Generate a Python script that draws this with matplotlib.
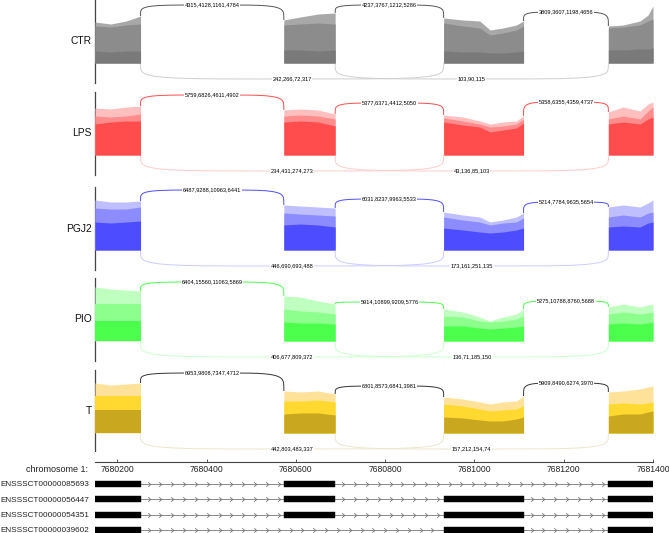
import numpy as np
import matplotlib
matplotlib.use("Agg")
import matplotlib.pyplot as plt
from matplotlib.path import Path

plt.rcParams['font.family'] = ['Liberation Sans', 'DejaVu Sans']

# ---------------- data ----------------
samples = ["CTR", "LPS", "PGJ2", "PIO", "T"]
exons = [(7680150, 7680252), (7680573, 7680688), (7680931, 7681110), (7681300, 7681400)]
exon_pos = [
    [7680150, 7680185, 7680220, 7680252],
    [7680573, 7680610, 7680650, 7680688],
    [7680931, 7680974, 7681012, 7681035, 7681064, 7681094, 7681110],
    [7681300, 7681333, 7681371, 7681389, 7681400],
]
# coverage envelopes (light = highest sample, medium, dark = lowest overlap), per exon
ctr_light = [[41, 39, 42, 47], [43, 46, 49, 50], [45, 43, 42, 33, 35, 38, 42], [37, 38, 42, 48, 57]]
ctr_mid = [[37, 36, 38, 39], [38, 39, 40, 39], [40, 37, 35, 28, 30, 33, 37], [35, 36, 38, 42, 44]]
ctr_dark = [[12, 11, 12, 12], [13, 13, 12, 13], [12, 11, 11, 10, 10, 11, 12], [13, 13, 14, 14, 15]]

lps_light = [[47, 46, 48, 49], [45, 46, 45, 41], [40, 38, 34, 31, 33, 34, 39], [43, 48, 44, 51, 53]]
lps_mid = [[39, 38, 39, 41], [39, 40, 39, 36], [37, 34, 31, 28, 29, 31, 36], [36, 39, 36, 44, 48]]
lps_dark = [[31, 33, 34, 34], [33, 34, 33, 29], [33, 30, 28, 23, 25, 27, 32], [31, 33, 31, 36, 38]]

pgj2_light = [[50, 48, 48, 49], [45, 44, 43, 42], [38, 35, 33, 28, 30, 33, 37], [43, 45, 43, 47, 50]]
pgj2_mid = [[42, 41, 41, 43], [37, 36, 35, 34], [33, 30, 28, 25, 27, 28, 32], [33, 35, 33, 37, 38]]
pgj2_dark = [[28, 27, 28, 29], [25, 26, 25, 23], [22, 20, 18, 17, 18, 20, 22], [23, 24, 23, 27, 28]]

pio_light = [[54, 52, 51, 50], [45, 44, 40, 37], [32, 29, 24, 20, 24, 27, 32], [34, 37, 34, 36, 37]]
pio_mid = [[37, 37, 37, 37], [32, 30, 29, 27], [25, 24, 20, 19, 20, 22, 25], [27, 29, 27, 28, 29]]
pio_dark = [[20, 20, 20, 20], [19, 18, 18, 17], [15, 15, 13, 12, 13, 14, 15], [17, 18, 17, 18, 19]]

t_light = [[50, 48, 49, 50], [42, 41, 42, 39], [36, 34, 31, 29, 31, 32, 37], [41, 42, 44, 46, 47]]
t_mid = [[37, 37, 37, 37], [32, 32, 33, 31], [29, 27, 24, 22, 23, 24, 27], [29, 30, 29, 30, 31]]
t_dark = [[23, 23, 23, 23], [19, 20, 20, 18], [16, 15, 13, 12, 12, 14, 16], [17, 19, 19, 21, 22]]

# junctions: top (exon i -> exon i+1), bottom (exon1->exon3, exon2->exon4)
top_junctions = [(0, 1), (1, 2), (2, 3)]
bottom_junctions = [(0, 2), (1, 3)]
ctr_top = [[4315, 4128, 1161, 4784], [4237, 3767, 1212, 5286], [3809, 3607, 1198, 4656]]
ctr_bot = [[242, 266, 72, 317], [103, 90, 115]]
lps_top = [[5759, 6826, 4611, 4902], [5377, 6371, 4412, 5050], [5358, 6355, 4359, 4737]]
lps_bot = [[234, 431, 274, 273], [43, 136, 85, 103]]
pgj2_top = [[6487, 9288, 10963, 6441], [6031, 8237, 9963, 5533], [5214, 7784, 9635, 5654]]
pgj2_bot = [[446, 690, 693, 488], [173, 161, 251, 135]]
pio_top = [[6404, 15560, 11063, 5869], [5914, 10899, 9209, 5776], [5275, 10788, 8760, 5688]]
pio_bot = [[406, 677, 809, 372], [136, 71, 185, 150]]
t_top = [[6953, 9808, 7347, 4712], [6801, 8573, 6841, 3981], [5909, 8490, 6274, 3970]]
t_bot = [[442, 803, 483, 337], [157, 212, 154, 74]]

transcripts = ["ENSSSCT00000085693", "ENSSSCT00000056447", "ENSSSCT00000054351", "ENSSSCT00000039602"]
transcript_exons = [[0, 1, 3], [0, 1, 2, 3], [0, 1, 2, 3], [0, 2, 3]]
tick_values = [7680200, 7680400, 7680600, 7680800, 7681000, 7681200, 7681400]
chrom_label = "chromosome 1:"

# ---------------- style ----------------
band_colors = {
    "CTR": ["#a8a8a8", "#8c8c8c", "#7a7a7a"],
    "LPS": ["#ffbfbf", "#ff8c8c", "#ff4d4d"],
    "PGJ2": ["#bfbfff", "#8c8cff", "#4d4dff"],
    "PIO": ["#bfffbf", "#8cff8c", "#4dff4d"],
    "T": ["#ffe29a", "#ffd92f", "#c9a71f"],
}
arc_colors = {
    "CTR": ("#555555", "#cfcfcf"),
    "LPS": ("#ff4d4d", "#ffcccc"),
    "PGJ2": ("#4d4dff", "#ccccff"),
    "PIO": ("#4dff4d", "#ccffcc"),
    "T": ("#333333", "#ece7cc"),
}
arc_peaks = {"CTR": [58, 58, 51], "LPS": [60, 52, 53], "PGJ2": [60, 51, 48],
             "PIO": [59, 39, 40], "T": [60, 47, 50]}
BOTTOM_DEPTH = -16
panel_tops = [0, 92, 187, 278, 370]

panel_data = {
    "CTR": (ctr_light, ctr_mid, ctr_dark, ctr_top, ctr_bot),
    "LPS": (lps_light, lps_mid, lps_dark, lps_top, lps_bot),
    "PGJ2": (pgj2_light, pgj2_mid, pgj2_dark, pgj2_top, pgj2_bot),
    "PIO": (pio_light, pio_mid, pio_dark, pio_top, pio_bot),
    "T": (t_light, t_mid, t_dark, t_top, t_bot),
}

W, H = 669, 533
XL, XR = 95, 653
XMIN, XMAX = 7680150, 7681400
fig = plt.figure(figsize=(W / 100, H / 100), dpi=100)


def axes_px(left, top, width, height):
    return fig.add_axes([left / W, 1 - (top + height) / H, width / W, height / H])


def half_arc(x0, y0, xm, ym, n=5.0, num=80):
    th = np.linspace(0, np.pi / 2, num)
    x = xm - (xm - x0) * np.cos(th) ** (2 / n)
    y = y0 + (ym - y0) * np.sin(th) ** (2 / n)
    return x, y


def draw_arc(ax, x1, y1, x2, y2, ym, color, lw):
    xm = (x1 + x2) / 2
    xa, ya = half_arc(x1, y1, xm, ym)
    xb, yb = half_arc(x2, y2, xm, ym)
    ax.plot(np.concatenate([xa, xb[::-1]]), np.concatenate([ya, yb[::-1]]),
            color=color, lw=lw, solid_capstyle='butt', zorder=2)
    return xm


for name, top in zip(samples, panel_tops):
    light, mid, dark, jt, jb = panel_data[name]
    ax = axes_px(XL, top, XR - XL, 83)
    ax.set_xlim(XMIN, XMAX)
    ax.set_ylim(-20, 63)
    for s in ["top", "right", "bottom"]:
        ax.spines[s].set_visible(False)
    ax.spines["left"].set_color("#444444")
    ax.spines["left"].set_linewidth(0.9)
    ax.set_xticks([])
    ax.set_yticks([])
    cols = band_colors[name]
    for e in range(len(exons)):
        xs = exon_pos[e]
        for band, c in zip((light, mid, dark), cols):
            ax.fill_between(xs, 0, band[e], color=c, lw=0, zorder=3)
    ctop, cbot = arc_colors[name]
    for k, (a, b) in enumerate(top_junctions):
        x1 = exons[a][1]
        x2 = exons[b][0]
        y1 = light[a][-1]
        y2 = light[b][0]
        xm = draw_arc(ax, x1, y1, x2, y2, arc_peaks[name][k], ctop, 0.7)
        ax.text(xm, arc_peaks[name][k], ",".join(str(v) for v in jt[k]), fontsize=4.1,
                ha='center', va='center', zorder=4,
                bbox=dict(facecolor='white', edgecolor='none', pad=0.4))
    for k, (a, b) in enumerate(bottom_junctions):
        x1 = exons[a][1]
        x2 = exons[b][0]
        xm = draw_arc(ax, x1, 0, x2, 0, BOTTOM_DEPTH, cbot, 0.7)
        ax.text(xm, BOTTOM_DEPTH, ",".join(str(v) for v in jb[k]), fontsize=4.1,
                ha='center', va='center', zorder=4,
                bbox=dict(facecolor='white', edgecolor='none', pad=0.4))
    ax.text(-0.006, 0.5, name, transform=ax.transAxes, ha='right', va='center',
            fontsize=7.4, color='#111111')

# ruler
rax = axes_px(XL, 452, XR - XL, 10)
rax.set_xlim(XMIN, XMAX)
rax.set_ylim(0, 1)
for s in ["top", "right", "left"]:
    rax.spines[s].set_visible(False)
rax.spines["bottom"].set_color("#444444")
rax.spines["bottom"].set_linewidth(0.8)
rax.set_yticks([])
rax.set_xticks(tick_values)
rax.set_xticklabels([str(v) for v in tick_values], fontsize=6.2, color='#222222')
rax.tick_params(axis='x', direction='in', length=2.5, width=0.6, color='#444444', pad=2)
fig.text(88 / W, 1 - 470 / H, chrom_label, ha='right', va='center', fontsize=6.5, color='#222222')

# transcripts
chevron = Path([(-0.6, 1.0), (0.6, 0.0), (-0.6, -1.0)], [Path.MOVETO, Path.LINETO, Path.LINETO])
tax = axes_px(XL, 476, XR - XL, 57)
tax.set_xlim(XMIN, XMAX)
tax.set_ylim(3.2, -0.52)
for s in tax.spines.values():
    s.set_visible(False)
tax.set_xticks([])
tax.set_yticks(range(len(transcripts)))
tax.set_yticklabels(transcripts, fontsize=5.9, color='#222222')
tax.tick_params(axis='y', length=0, pad=4)
box_h = 0.38
for i, ex_idx in enumerate(transcript_exons):
    t_start = exons[ex_idx[0]][0]
    t_end = exons[ex_idx[-1]][1]
    tax.plot([t_start, t_end], [i, i], color='#8a8a8a', lw=0.7, zorder=1)
    for a, b in zip(ex_idx[:-1], ex_idx[1:]):
        g0, g1 = exons[a][1], exons[b][0]
        arr = np.arange(g0 + 18, g1 - 8, 26.5)
        tax.plot(arr, [i] * len(arr), linestyle='none', marker=chevron, markersize=3.2,
                 markerfacecolor='none', markeredgecolor='#777777', markeredgewidth=0.6,
                 zorder=2)
    for e in ex_idx:
        s0, s1 = exons[e]
        tax.add_patch(plt.Rectangle((s0, i - box_h / 2), s1 - s0, box_h,
                                    facecolor='black', edgecolor='black', lw=0.3, zorder=3))

fig.savefig("out.png", dpi=100)
